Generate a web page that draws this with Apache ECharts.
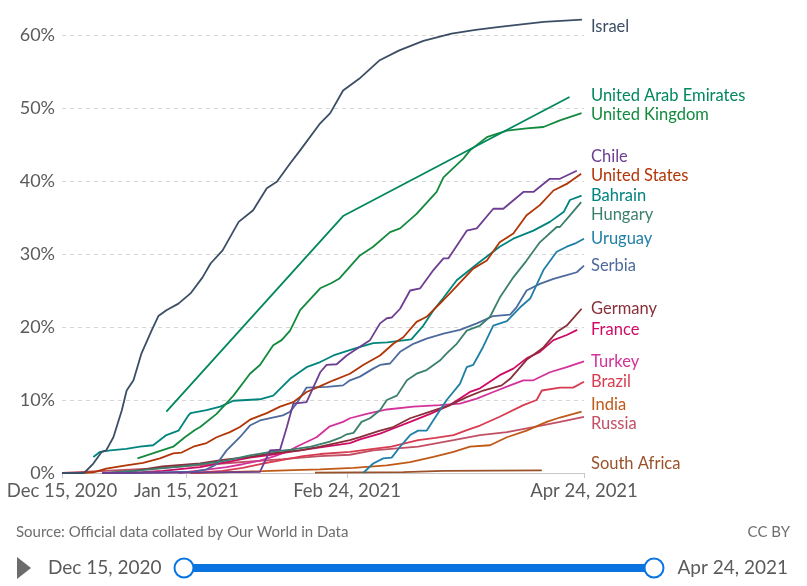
<!DOCTYPE html>
<html><head><meta charset="utf-8">
<script src="https://cdn.jsdelivr.net/npm/echarts@6/dist/echarts.min.js"></script>
<style>html,body{margin:0;padding:0;background:#fff}#c{width:807px;height:586px}</style>
</head><body><div id="c"></div>
<script>
// x values: days since Dec 15, 2020; y values: % of people with at least one dose
const tickDays = [0, 31, 71, 130];
const tickLabels = ["Dec 15, 2020", "Jan 15, 2021", "Feb 24, 2021", "Apr 24, 2021"];
const yTicks = [0, 10, 20, 30, 40, 50, 60];

const seriesNames = ["Israel","United Arab Emirates","United Kingdom","Chile","United States","Bahrain","Hungary","Uruguay","Serbia","Germany","France","Turkey","Brazil","India","Russia","South Africa"];
const seriesColors = ["#3c4e66","#00875e","#138a3e","#6d3e91","#b13507","#00847e","#3b7f6e","#1f7fa6","#4c6a9c","#883039","#cf0a66","#d4329a","#d73c50","#c05917","#c15065","#9a5129"];

const israel = [[0,0],[5.5,0],[7.8,1.3],[9.9,2.9],[11,3.1],[12.8,4.9],[14.9,8.6],[16.1,11.3],[17.8,12.7],[19.8,16.4],[22.3,19.5],[24,21.5],[26,22.3],[29,23.2],[32,24.6],[35,26.8],[37,28.7],[40,30.5],[44,34.4],[47.6,36],[51,39],[53.5,39.9],[56.8,42.4],[59.3,44.2],[64.3,47.9],[66.8,49.3],[70,52.4],[74,54],[79,56.5],[84,57.9],[90,59.2],[97,60.2],[103,60.7],[109,61.1],[115,61.5],[120,61.8],[129.5,62.1]];
const uae = [[26,8.4],[70,35.2],[126.4,51.5]];
const uk = [[18.8,2.0],[27.7,3.6],[30.6,4.9],[33.1,5.9],[34.4,6.3],[38.5,8.1],[42.7,10.6],[46.8,13.6],[49.3,14.8],[52.6,17.5],[54.7,18.2],[56.8,19.5],[59.3,22.3],[64.3,25.3],[67,26],[69,26.6],[74.2,29.8],[77.5,31],[81.7,33],[84.2,33.5],[88.3,35.5],[93.3,38.5],[95,40.5],[100,43.1],[101.6,44.2],[105.8,46],[110.8,46.9],[115.7,47.2],[119.9,47.4],[124,48.3],[129.4,49.3]];
const chile = [[10,0],[30,0.05],[49.3,0.15],[51.8,3.1],[54.3,3.2],[56,6.3],[57.6,9.5],[60.9,9.7],[64.3,13.8],[65.9,14.8],[68.4,14.9],[70.9,16.1],[74.2,17.3],[76.7,18.2],[79.2,20.5],[80.9,21.2],[82.1,21.3],[84.2,22.5],[86.7,25],[89.2,25.3],[92.5,27.8],[95,29.4],[96.2,29.4],[100.8,33.2],[103.3,33.5],[107.4,36.2],[109.9,36.2],[114.9,38.5],[117.4,38.5],[121.5,40.3],[124,40.3],[128.2,41.4]];
const usa = [[0,0],[4.5,0],[7.8,0.1],[11,0.6],[16,1.05],[20.2,1.4],[24.4,2.0],[27.7,2.7],[29.8,2.8],[32.7,3.6],[36,4.1],[38.5,4.9],[41.8,5.6],[44.3,6.3],[46.8,7.3],[51,8.2],[54.3,9.1],[57.6,9.7],[60.9,11.1],[64.3,11.9],[67.6,12.7],[71.7,13.6],[75,14.8],[79.2,16.1],[82.5,17.7],[85,18.6],[88.3,20.7],[90.8,21.4],[95,23.7],[96.6,24.6],[100,26.6],[102.4,28],[105.8,29.1],[109,31.6],[112.4,32.8],[115.7,35.3],[119,36.7],[122.4,38.7],[125.7,39.6],[129.3,41]];
const bahrain = [[7.8,2.2],[9.5,2.9],[12,3.1],[16,3.3],[19.4,3.6],[22.7,3.8],[26,5.2],[29,5.8],[31.5,7.9],[32,8.2],[36,8.6],[39.4,9.1],[42.7,9.9],[49.3,10.1],[52.6,10.6],[56.8,12.9],[60.9,14.5],[64.3,15.2],[67.6,16.1],[72.6,17],[77.5,17.8],[81,17.9],[87,18.3],[90,20.2],[92.5,22.3],[95,24],[98.3,26.4],[104,28.9],[109,31],[112.4,32.1],[117.4,33.2],[121.5,34.4],[125,35.8],[126.5,37.4],[129.4,38]];
const hungary = [[11,0],[20,0.4],[30,0.9],[40,1.6],[46.8,2.4],[52,2.9],[57,3.2],[62,3.6],[66.7,4.3],[69.2,4.8],[70.9,5.3],[72.6,5.5],[74.6,7.0],[76.7,7.5],[79.2,8.6],[80.9,10],[83.4,10.6],[85.9,12.7],[88.3,13.6],[90.8,14.1],[94.1,15.4],[95.8,16.4],[98.3,17.7],[100.8,19.5],[104.1,20.2],[106.6,21.4],[109,24.0],[112.4,26.8],[115.7,29.1],[119,31.6],[123.2,33.7],[124,33.7],[126.5,35.3],[129.3,37.1]];
const uruguay = [[75,0],[77.5,1.3],[80,2.0],[82.1,2.1],[84.2,3.6],[86.7,5.2],[88.7,5.8],[90.8,5.8],[93.3,7.9],[95.8,10],[99.1,12.2],[100.8,14.5],[102.4,14.8],[104.9,17.3],[107.4,20.2],[110.8,20.8],[114.1,22.7],[116.6,23.9],[119.9,27.8],[123.2,30.3],[125.7,31],[128,31.5],[130,32.1]];
const serbia = [[10,0],[25,0.1],[33,0.2],[36,0.5],[38.5,1.2],[41,3.1],[44.3,4.9],[46.8,6.5],[49.3,7.2],[55,7.9],[56.8,8.4],[58.4,9.5],[60.9,11.7],[66,11.8],[70,12],[71.7,12.7],[74.2,13.2],[77.5,14.3],[79.2,14.8],[81.7,15],[84.2,16.6],[87.5,17.7],[90.8,18.4],[95,19.1],[99.1,19.6],[103.3,20.5],[107.4,21.5],[111.6,21.7],[113.2,22.7],[115.7,25],[119,25.9],[122.4,26.6],[125.7,27.1],[128.2,27.5],[130,28.4]];
const germany = [[12,0],[18,0.3],[25,0.9],[34.4,1.3],[40,1.8],[46.8,2.2],[52,2.7],[59.3,3.1],[64.3,3.6],[71.7,4.5],[74.2,4.9],[79.2,5.8],[82.5,6.3],[86.7,7.5],[91.7,8.4],[96.6,9.3],[100.8,10.4],[104.9,11.3],[109.5,12.0],[111.6,12.9],[115.7,15.5],[119.9,17.2],[123.2,19.3],[125.7,20.2],[129.4,22.5]];
const france = [[12,0],[20,0.1],[25,0.3],[34.4,0.8],[40,1.4],[46.8,2.1],[52,2.5],[58,3.0],[64.3,3.5],[71.7,4.1],[74.2,4.6],[79.2,5.4],[82.5,6.1],[86.7,7.0],[91.7,8.1],[96.6,9.3],[101.6,11.1],[104.1,11.6],[109,13.4],[112.4,14.3],[115.7,15.7],[119,16.6],[122.4,18.2],[125.7,18.9],[128.3,19.6]];
const turkey = [[29,0],[35,0.4],[41,0.8],[45,1.2],[49.3,1.7],[53,2.3],[56.8,3.1],[58.4,3.6],[63.4,4.9],[66.7,6.4],[70,7.0],[71.7,7.5],[75.9,8.1],[80.9,8.7],[87.5,9.1],[94.1,9.3],[99.1,9.5],[103.3,10.2],[107.4,11.1],[111.6,12],[114.9,12.7],[117.4,12.7],[121.5,13.8],[125.7,14.5],[130,15.3]];
const brazil = [[33,0],[40,0.3],[45,0.7],[50,1.3],[55,1.8],[60,2.3],[64.3,2.6],[71.7,2.9],[77.5,3.3],[82,3.6],[88.7,4.5],[93,4.8],[97.5,5.2],[101,5.9],[104.1,6.5],[109,7.7],[114.9,9.3],[118.2,10],[119.5,11.3],[124,11.7],[127.3,11.7],[130,12.5]];
const india = [[32,0],[40,0.1],[50,0.25],[57.6,0.4],[64.3,0.5],[72.6,0.7],[80.9,1.05],[86.7,1.5],[92.5,2.2],[97.5,2.9],[101.6,3.6],[106.6,3.8],[110.8,4.9],[115.7,5.8],[120.7,7.0],[124,7.6],[129.4,8.4]];
const russia = [[0,0],[22,0.6],[40,1.3],[55,1.9],[64.3,2.3],[71.7,2.5],[77.5,3.1],[88.7,3.6],[97.5,4.5],[104.1,5.2],[110.8,5.6],[117.4,6.3],[124,7.0],[130,7.7]];
const southAfrica = [[63,0.05],[85,0.12],[95,0.3],[119.5,0.36]];

const seriesData = [israel, uae, uk, chile, usa, bahrain, hungary, uruguay, serbia, germany, france, turkey, brazil, india, russia, southAfrica];

const chart = echarts.init(document.getElementById('c'), null, {renderer: 'canvas'});
const FONT = 'Lato, "Noto Sans", sans-serif';

const option = {
  animation: false,
  backgroundColor: '#fff',
  grid: {left: 62, right: 223, top: 35, bottom: 113, containLabel: false},
  xAxis: {
    type: 'value', min: tickDays[0], max: tickDays[tickDays.length - 1],
    axisLine: {show: true, lineStyle: {color: '#c8c8c8', width: 1}},
    axisTick: {show: true, customValues: tickDays, length: 5, lineStyle: {color: '#c8c8c8'}},
    axisLabel: {customValues: tickDays, color: '#5b5b5b', fontSize: 18.5, fontFamily: FONT, margin: 9,
      formatter: v => tickLabels[tickDays.indexOf(v)] || ''},
    splitLine: {show: false}
  },
  yAxis: {
    type: 'value', min: yTicks[0], max: yTicks[yTicks.length - 1], interval: 10,
    axisLine: {show: false}, axisTick: {show: false},
    axisLabel: {color: '#5b5b5b', fontSize: 18, fontFamily: FONT, margin: 7, formatter: v => v + '%'},
    splitLine: {show: true, lineStyle: {color: '#d6d6d6', type: [4, 4], width: 1}}
  },
  series: seriesNames.map((n, i) => ({
    name: n, type: 'line', data: seriesData[i], showSymbol: false, symbol: 'none',
    clip: false, smooth: false,
    lineStyle: {color: seriesColors[i], width: 1.8},
    z: 10 + (seriesNames.length - i)
  }))
};
chart.setOption(option);

// End labels with overlap resolution
const GAP = 19.5, MINY = 27, MAXY = 464;
const items = seriesNames.map((n, i) => {
  const last = seriesData[i][seriesData[i].length - 1];
  const p = chart.convertToPixel({gridIndex: 0}, last);
  return {name: n, color: seriesColors[i], want: Math.max(MINY, Math.min(MAXY, p[1]))};
});
items.sort((a, b) => a.want - b.want);
let clusters = items.map(it => ({items: [it]}));
function topOf(c) {
  const n = c.items.length;
  const mean = c.items.reduce((s, it) => s + it.want, 0) / n;
  let t = mean - (n - 1) * GAP / 2;
  return Math.max(MINY, Math.min(t, MAXY - (n - 1) * GAP));
}
let changed = true;
while (changed) {
  changed = false;
  for (let i = 0; i < clusters.length - 1; i++) {
    const a = clusters[i], b = clusters[i + 1];
    const aBottom = topOf(a) + (a.items.length - 1) * GAP;
    if (topOf(b) - aBottom < GAP) {
      a.items = a.items.concat(b.items);
      clusters.splice(i + 1, 1);
      changed = true; break;
    }
  }
}
clusters.forEach(c => { const t = topOf(c); c.items.forEach((it, k) => it.y = t + k * GAP); });

const labelX = chart.convertToPixel({gridIndex: 0}, [tickDays[tickDays.length - 1], 0])[0] + 7;
const graphics = items.map(it => ({
  type: 'text', x: labelX, y: it.y, silent: true,
  style: {text: it.name, fill: it.color, font: '16.5px ' + FONT, textAlign: 'left', textVerticalAlign: 'middle', verticalAlign: 'middle'}
}));

// Footer: source, license, timeline
graphics.push(
  {type: 'text', x: 16, y: 532, style: {text: 'Source: Official data collated by Our World in Data', fill: '#6e6e6e', font: '15px ' + FONT, textVerticalAlign: 'middle', verticalAlign: 'middle'}},
  {type: 'text', x: 790, y: 532, style: {text: 'CC BY', fill: '#6e6e6e', font: '15px ' + FONT, textAlign: 'right', textVerticalAlign: 'middle', verticalAlign: 'middle'}},
  {type: 'polygon', shape: {points: [[17, 557], [17, 579], [31, 568]]}, style: {fill: '#6b6b6b'}},
  {type: 'text', x: 48, y: 568, style: {text: tickLabels[0], fill: '#5b5b5b', font: '19px ' + FONT, textVerticalAlign: 'middle', verticalAlign: 'middle'}},
  {type: 'rect', shape: {x: 184, y: 564, width: 470, height: 8, r: 4}, style: {fill: '#0a74e0'}},
  {type: 'circle', shape: {cx: 184, cy: 568, r: 9.5}, style: {fill: '#fff', stroke: '#0a74e0', lineWidth: 2}},
  {type: 'circle', shape: {cx: 654, cy: 568, r: 9.5}, style: {fill: '#fff', stroke: '#0a74e0', lineWidth: 2}},
  {type: 'text', x: 788, y: 568, style: {text: tickLabels[tickLabels.length - 1], fill: '#5b5b5b', font: '19px ' + FONT, textAlign: 'right', textVerticalAlign: 'middle', verticalAlign: 'middle'}}
);
chart.setOption({graphic: graphics});
</script>
</body></html>
